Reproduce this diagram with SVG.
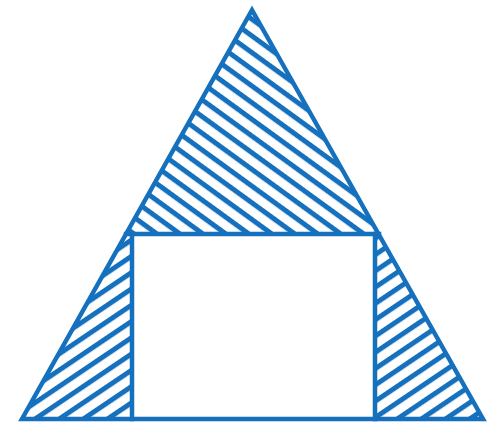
<svg xmlns="http://www.w3.org/2000/svg" width="500" height="438" viewBox="0 0 500 438">
<defs>
<style>
.edge{fill:none;stroke:#1570BD;stroke-width:4.5;stroke-linejoin:miter;stroke-linecap:square}
</style>
<pattern id="hatchDown" patternUnits="userSpaceOnUse" width="40" height="13.5" patternTransform="rotate(36)">
<rect x="0" y="0" width="40" height="5" fill="#1570BD"/>
</pattern>
<pattern id="hatchUp" patternUnits="userSpaceOnUse" width="40" height="13.5" patternTransform="rotate(-34)">
<rect x="0" y="0" width="40" height="5" fill="#1570BD"/>
</pattern>
</defs>
<rect width="500" height="438" fill="#ffffff"/>
<g id="upper-hatch">
<polygon points="252,10 126,234 379,234" fill="url(#hatchDown)"/>
</g>
<g id="left-hatch">
<polygon points="126,234 132,234 132,419 22,419" fill="url(#hatchUp)"/>
</g>
<g id="right-hatch">
<polygon points="375,234 379,234 483,419 375,419" fill="url(#hatchUp)"/>
</g>
<g id="triangle">
<polygon class="edge" points="252,10 483,419 22,419"/>
</g>
<g id="rectangle">
<line class="edge" x1="126" y1="234" x2="379" y2="234"/>
<line class="edge" x1="132" y1="234" x2="132" y2="419"/>
<line class="edge" x1="375" y1="234" x2="375" y2="419"/>
</g>
</svg>
